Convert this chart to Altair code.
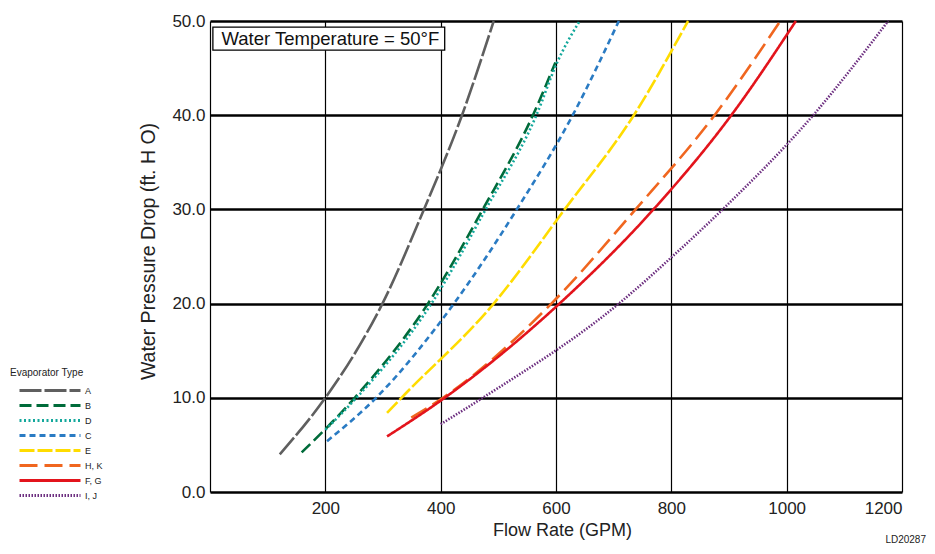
import altair as alt
import pandas as pd

# ---- data ----
types = ["A", "B", "D", "C", "E", "H, K", "F, G", "I, J"]
colors = ["#5f5f5f", "#006b3a", "#14a89c", "#2a7bc3", "#ffdc00", "#f0661f", "#e3141c", "#6d2f80"]
dashes = [[22, 3], [12, 5], [2, 2.5], [6, 4], [15, 3], [18, 7], [1, 0], [1.5, 1.5]]

a_gpm = [121, 200, 251, 299, 371, 437, 492]
a_ft = [4.0, 10.0, 14.7, 20.0, 30.0, 40.0, 50.0]
b_gpm = [159, 251, 378, 473, 560, 599]
b_ft = [4.2, 10.0, 20.0, 30.0, 40.0, 45.6]
d_gpm = [200, 254, 384, 478, 566, 602, 641]
d_ft = [6.6, 10.0, 20.0, 30.0, 40.0, 45.6, 50.0]
c_gpm = [203, 288, 423, 532, 629, 709]
c_ft = [5.4, 10.0, 20.0, 30.0, 40.0, 50.0]
e_gpm = [307, 332, 492, 615, 735, 829]
e_ft = [8.4, 10.0, 20.0, 30.0, 40.0, 50.0]
hk_gpm = [349, 404, 592, 738, 875, 989]
hk_ft = [7.9, 10.0, 20.0, 30.0, 40.0, 50.0]
fg_gpm = [307, 407, 606, 769, 904, 1016]
fg_ft = [5.9, 10.0, 20.0, 30.0, 40.0, 50.0]
ij_gpm = [400, 473, 709, 800, 889, 1046, 1176]
ij_ft = [7.2, 10.0, 20.0, 24.9, 30.0, 40.0, 50.0]

x_ticks = [0, 200, 400, 600, 800, 1000, 1200]
y_ticks = [0, 10, 20, 30, 40, 50]

note_text = ["Water Temperature = 50°F"]
note_box_gpm = [5, 407]
note_box_ft = [46.9, 49.35]
note_text_pos = [20, 48.1]
code_text = ["LD20287"]

series = {
    "A": (a_gpm, a_ft), "B": (b_gpm, b_ft), "D": (d_gpm, d_ft), "C": (c_gpm, c_ft),
    "E": (e_gpm, e_ft), "H, K": (hk_gpm, hk_ft), "F, G": (fg_gpm, fg_ft), "I, J": (ij_gpm, ij_ft),
}
rows = []
for t, (gs, fs) in series.items():
    for g, f in zip(gs, fs):
        rows.append({"type": t, "gpm": g, "ft": f})
df = pd.DataFrame(rows)

FONT = "Liberation Sans"
X_TITLE = "Flow Rate (GPM)"
Y_TITLE = "Water Pressure Drop (ft. H O)"

x_scale = alt.Scale(domain=[0, 1200], nice=False, zero=False)
y_scale = alt.Scale(domain=[0, 50], nice=False)
x_axis = alt.Axis(values=x_ticks, format="d", labelExpr="datum.value == 0 ? '' : datum.label",
                  domain=False, ticks=False, grid=True, gridColor="#000", gridWidth=1.2,
                  labelPadding=8, titlePadding=5, titleX=352)
y_axis = alt.Axis(values=y_ticks, format=".1f", domain=False, ticks=False, grid=True,
                  gridColor="#000", gridWidth=2.5, labelPadding=5, titlePadding=13,
                  titleFontSize=19.5, titleY=230)

legend = alt.Legend(
    title="Evaporator Type", orient="none", legendX=-200, legendY=347,
    titleFontSize=10, titleFontWeight="normal", titleFont=FONT, titleColor="#222",
    labelFontSize=9, labelFont=FONT, labelColor="#222",
    symbolType="M0.6,0H12.8", symbolSize=100, symbolStrokeWidth=3,
    labelOffset=62, rowPadding=2, padding=0, titlePadding=6,
)

lines = alt.Chart(df).mark_line(interpolate="monotone", strokeWidth=2.6).encode(
    x=alt.X("gpm:Q", title=X_TITLE, scale=x_scale, axis=x_axis),
    y=alt.Y("ft:Q", title=Y_TITLE, scale=y_scale, axis=y_axis),
    color=alt.Color("type:N", sort=types, scale=alt.Scale(domain=types, range=colors), legend=legend),
    strokeDash=alt.StrokeDash("type:N", sort=types, scale=alt.Scale(domain=types, range=dashes), legend=legend),
    order=alt.Order("gpm:Q"),
)

box_df = pd.DataFrame({"gpm": [note_box_gpm[0]], "gpm2": [note_box_gpm[1]],
                       "ft": [note_box_ft[0]], "ft2": [note_box_ft[1]],
                       "tx": [note_text_pos[0]], "ty": [note_text_pos[1]], "label": note_text})

box = alt.Chart(box_df).mark_rect(fill="white", stroke="#000", strokeWidth=1.3).encode(
    x=alt.X("gpm:Q", title=X_TITLE, scale=x_scale, axis=x_axis), x2="gpm2:Q",
    y=alt.Y("ft:Q", title=Y_TITLE, scale=y_scale, axis=y_axis), y2="ft2:Q")
note = alt.Chart(box_df).mark_text(align="left", baseline="middle", fontSize=18.5, font=FONT, color="#111").encode(
    x=alt.X("tx:Q", title=X_TITLE, scale=x_scale, axis=x_axis),
    y=alt.Y("ty:Q", title=Y_TITLE, scale=y_scale, axis=y_axis), text="label:N")

code = alt.Chart(pd.DataFrame({"t": code_text})).mark_text(
    align="right", baseline="bottom", fontSize=10, font=FONT, color="#222").encode(
    x=alt.value(716), y=alt.value(524), text="t:N")

chart = alt.layer(lines, box, note, code).properties(
    width=692, height=471,
    autosize=alt.AutoSizeParams(type="none"),
    padding={"left": 202, "top": 13, "right": 25, "bottom": 53},
).configure_view(stroke=None).configure_axis(
    labelFont=FONT, labelFontSize=17, labelColor="#222",
    titleFont=FONT, titleFontSize=18, titleFontWeight="normal", titleColor="#222",
)

chart.save("out.html", embed_options={"renderer": "svg", "actions": False})
